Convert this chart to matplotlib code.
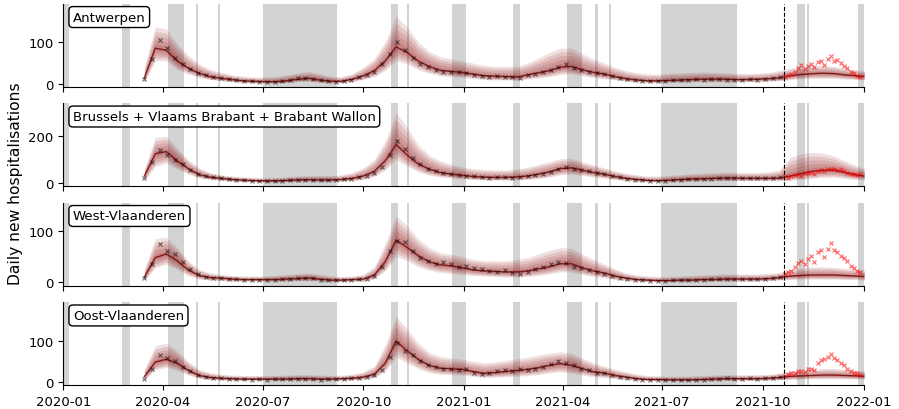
import numpy as np
import pandas as pd
import matplotlib
matplotlib.use('Agg')
import matplotlib.pyplot as plt
import matplotlib.dates as mdates

regions = ['Antwerpen', 'Brussels + Vlaams Brabant + Brabant Wallon',
           'West-Vlaanderen', 'Oost-Vlaanderen']

# model quantiles, every 10 days
model_dates = pd.date_range('2020-03-15', periods=67, freq='10D')
# weekly observed admissions used for calibration
obs_dates = pd.date_range('2020-03-15', '2021-10-17', freq='7D')
# observations after the end of calibration
val_dates = pd.date_range('2021-10-21', '2021-12-31', freq='3D')
calib_end = pd.Timestamp('2021-10-20')

med_ant = [15, 85, 80, 55, 38, 26, 18, 14, 11, 8, 7, 6, 6, 8, 12, 14, 10, 7, 7, 12,
           20, 32, 55, 88, 75, 55, 42, 33, 30, 28, 24, 20, 19, 18, 17, 22, 27, 32, 40, 42,
           34, 28, 24, 18, 13, 10, 8, 8, 9, 10, 11, 12, 12, 12, 11, 11, 12, 13, 15, 20,
           23, 25, 26, 25, 22, 20, 18]
hi_ant = [40, 135, 130, 95, 68, 48, 35, 28, 22, 19, 17, 17, 18, 22, 27, 30, 25, 19, 18, 25,
          40, 60, 100, 160, 135, 100, 78, 65, 60, 55, 50, 45, 42, 42, 42, 50, 62, 75, 85, 85,
          72, 60, 50, 40, 32, 27, 24, 24, 26, 27, 28, 29, 28, 27, 26, 25, 26, 28, 32, 38,
          42, 44, 44, 42, 38, 34, 32]
lo_ant = [5, 55, 55, 35, 24, 16, 11, 8, 6, 4, 3, 3, 3, 4, 6, 7, 5, 3, 3, 6,
          11, 18, 32, 55, 48, 34, 26, 20, 18, 16, 14, 11, 10, 10, 9, 12, 15, 18, 23, 25,
          20, 16, 13, 10, 7, 5, 4, 4, 5, 5, 6, 6, 6, 6, 6, 6, 6, 7, 8, 11,
          13, 14, 14, 14, 12, 11, 10]

med_bru = [30, 125, 135, 95, 62, 36, 25, 20, 15, 12, 10, 9, 9, 11, 13, 14, 13, 13, 15, 20,
           30, 50, 95, 165, 120, 82, 60, 45, 38, 33, 28, 25, 24, 24, 26, 30, 38, 48, 62, 65,
           55, 45, 38, 28, 20, 15, 11, 10, 12, 15, 17, 18, 20, 21, 21, 20, 20, 20, 21, 30,
           40, 50, 55, 55, 45, 35, 28]
hi_bru = [60, 195, 200, 150, 100, 65, 45, 36, 30, 26, 24, 23, 24, 27, 30, 32, 32, 32, 35, 45,
          65, 100, 180, 300, 240, 165, 120, 95, 80, 70, 62, 58, 56, 56, 60, 68, 80, 92, 105, 105,
          92, 78, 65, 52, 42, 35, 30, 30, 33, 36, 40, 42, 44, 46, 46, 45, 45, 48, 55, 110,
          125, 132, 128, 115, 95, 75, 60]
lo_bru = [10, 70, 85, 60, 38, 22, 15, 11, 8, 6, 5, 4, 4, 5, 6, 7, 6, 6, 7, 10,
          15, 28, 55, 100, 72, 48, 34, 26, 22, 18, 15, 13, 12, 12, 13, 15, 19, 25, 35, 38,
          32, 26, 21, 15, 10, 7, 5, 5, 6, 7, 8, 9, 10, 10, 10, 10, 10, 10, 10, 12,
          15, 20, 24, 25, 20, 15, 12]

med_wvl = [10, 48, 55, 42, 24, 13, 9, 8, 6, 5, 5, 5, 5, 6, 7, 8, 6, 4, 4, 5,
           6, 14, 40, 82, 68, 52, 40, 34, 32, 28, 24, 22, 21, 20, 20, 22, 26, 30, 36, 36,
           28, 22, 18, 12, 8, 5, 4, 3, 3, 4, 4, 5, 5, 6, 6, 6, 6, 7, 9, 12,
           13, 14, 14, 14, 13, 12, 11]
hi_wvl = [25, 85, 88, 68, 42, 25, 18, 15, 13, 12, 12, 12, 13, 15, 17, 18, 15, 12, 11, 12,
          15, 30, 75, 130, 110, 85, 68, 58, 55, 50, 45, 42, 42, 42, 44, 48, 55, 62, 68, 66,
          55, 45, 35, 26, 18, 14, 12, 11, 11, 12, 13, 14, 15, 16, 16, 16, 16, 17, 19, 25,
          28, 30, 30, 29, 27, 25, 23]
lo_wvl = [3, 28, 35, 25, 13, 6, 4, 3, 2, 2, 2, 2, 2, 2, 3, 3, 2, 1, 1, 2,
          2, 6, 22, 50, 42, 30, 23, 19, 17, 15, 13, 12, 11, 10, 10, 11, 13, 16, 20, 20,
          15, 11, 9, 5, 3, 2, 1, 1, 1, 1, 1, 2, 2, 2, 2, 2, 2, 3, 4, 5,
          6, 6, 6, 6, 5, 5, 4]

med_ovl = [12, 48, 55, 45, 28, 15, 10, 8, 7, 6, 6, 6, 6, 6, 7, 7, 6, 6, 7, 8,
           11, 18, 45, 100, 76, 55, 40, 33, 31, 30, 25, 20, 22, 25, 27, 30, 34, 40, 44, 40,
           32, 24, 21, 15, 11, 7, 5, 5, 4, 4, 4, 5, 6, 7, 7, 7, 7, 8, 10, 13,
           14, 15, 16, 16, 15, 14, 13]
hi_ovl = [30, 88, 95, 75, 50, 30, 22, 18, 16, 15, 15, 15, 15, 16, 17, 17, 16, 15, 16, 18,
          24, 38, 90, 160, 130, 95, 72, 62, 58, 55, 50, 46, 48, 52, 56, 60, 65, 70, 73, 70,
          58, 46, 38, 30, 24, 18, 15, 14, 13, 13, 14, 15, 16, 17, 17, 17, 17, 18, 21, 26,
          28, 30, 32, 32, 30, 28, 26]
lo_ovl = [4, 28, 35, 28, 16, 8, 5, 4, 3, 3, 3, 3, 3, 3, 3, 3, 3, 3, 3, 4,
          5, 9, 25, 60, 45, 32, 22, 18, 17, 16, 13, 10, 11, 12, 13, 15, 17, 21, 24, 21,
          16, 12, 10, 7, 5, 3, 2, 2, 2, 2, 2, 2, 2, 3, 3, 3, 3, 3, 4, 5,
          6, 7, 7, 7, 7, 6, 6]

obs_ant = [12, 60, 105, 85, 62, 48, 36, 27, 22, 17, 14, 12, 10, 8, 7, 6, 5, 6, 8, 11,
           14, 15, 13, 9, 7, 6, 7, 11, 16, 22, 30, 48, 72, 100, 80, 62, 48, 40, 33, 30,
           28, 30, 26, 22, 20, 18, 19, 17, 16, 15, 22, 25, 28, 33, 40, 48, 38, 33, 30, 27,
           23, 19, 15, 12, 10, 8, 7, 7, 8, 9, 10, 10, 12, 11, 12, 13, 11, 10, 11, 12,
           11, 13, 14, 16]
obs_bru = [20, 90, 140, 120, 100, 80, 55, 38, 30, 24, 20, 17, 14, 12, 10, 9, 8, 9, 10, 12,
           14, 15, 13, 12, 12, 14, 16, 19, 25, 32, 45, 70, 120, 180, 145, 105, 80, 62, 52, 45,
           40, 35, 30, 28, 26, 23, 24, 25, 22, 26, 30, 35, 40, 48, 58, 70, 62, 55, 50, 42,
           38, 30, 24, 18, 14, 12, 10, 9, 10, 12, 14, 16, 17, 18, 19, 20, 21, 20, 22, 21,
           20, 21, 22, 24]
obs_wvl = [8, 35, 75, 60, 55, 40, 25, 15, 10, 9, 8, 7, 6, 5, 5, 4, 5, 5, 6, 7,
           8, 9, 8, 5, 4, 4, 4, 5, 6, 7, 12, 30, 60, 80, 78, 60, 48, 42, 35, 40,
           35, 30, 32, 28, 25, 22, 20, 24, 18, 16, 20, 25, 30, 35, 40, 38, 30, 28, 24, 20,
           16, 12, 9, 6, 5, 4, 3, 3, 3, 4, 4, 5, 5, 5, 6, 6, 7, 6, 6, 7,
           6, 7, 8, 10]
obs_ovl = [7, 30, 65, 58, 50, 35, 25, 15, 10, 9, 8, 7, 6, 6, 5, 6, 5, 6, 6, 6,
           7, 7, 6, 5, 6, 6, 7, 8, 9, 12, 16, 28, 60, 95, 75, 65, 50, 40, 35, 32,
           30, 28, 30, 22, 18, 20, 25, 28, 26, 30, 28, 32, 36, 42, 50, 46, 40, 30, 28, 22,
           20, 15, 12, 9, 7, 5, 5, 4, 4, 4, 4, 5, 5, 5, 6, 7, 8, 7, 7, 8,
           7, 8, 9, 11]

val_ant = [18, 22, 25, 30, 38, 45, 36, 42, 48, 40, 52, 55, 45, 60, 67, 55, 58, 50, 44, 38,
           30, 27, 20, 16]
val_bru = [28, 22, 30, 35, 38, 32, 42, 45, 48, 40, 50, 55, 52, 58, 60, 62, 55, 58, 50, 45,
           40, 38, 35, 40]
val_wvl = [15, 20, 22, 30, 38, 42, 36, 45, 52, 40, 58, 62, 50, 65, 76, 62, 58, 52, 48, 42,
           32, 28, 22, 20]
val_ovl = [14, 18, 20, 22, 25, 27, 24, 30, 32, 28, 45, 52, 55, 60, 69, 58, 52, 45, 40, 32,
           25, 22, 20, 17]

# school holidays / bank holidays
holidays = [('2020-01-01', '2020-01-06'), ('2020-02-24', '2020-03-02'),
            ('2020-04-06', '2020-04-20'), ('2020-05-01', '2020-05-03'),
            ('2020-05-21', '2020-05-23'), ('2020-07-01', '2020-09-07'),
            ('2020-10-26', '2020-11-02'), ('2020-11-10', '2020-11-12'),
            ('2020-12-21', '2021-01-03'), ('2021-02-15', '2021-02-21'),
            ('2021-04-05', '2021-04-19'), ('2021-05-01', '2021-05-03'),
            ('2021-05-13', '2021-05-15'), ('2021-06-30', '2021-09-07'),
            ('2021-11-01', '2021-11-08'), ('2021-11-10', '2021-11-12'),
            ('2021-12-27', '2022-01-01')]

meds = [med_ant, med_bru, med_wvl, med_ovl]
his = [hi_ant, hi_bru, hi_wvl, hi_ovl]
los = [lo_ant, lo_bru, lo_wvl, lo_ovl]
obs = [obs_ant, obs_bru, obs_wvl, obs_ovl]
vals = [val_ant, val_bru, val_wvl, val_ovl]
ylims = [(-6, 189), (-14, 341), (-7, 155), (-9, 195)]
yticks = [[0, 100], [0, 200], [0, 100], [0, 100]]

fig, axes = plt.subplots(4, 1, figsize=(8.99, 4.10), dpi=100, sharex=True)
fig.subplots_adjust(left=0.0704, right=0.9607, bottom=0.058, top=0.988, hspace=0.2)

for i, ax in enumerate(axes):
    for a, b in holidays:
        ax.axvspan(pd.Timestamp(a), pd.Timestamp(b), color='lightgray', lw=0, zorder=0)

    med = np.array(meds[i], dtype=float)
    lo = np.array(los[i], dtype=float)
    hi = np.array(his[i], dtype=float)
    for f in (1.0, 0.8, 0.6, 0.4, 0.2):
        ax.fill_between(model_dates, med - f * (med - lo), med + f * (hi - med),
                        color='#8b0000', alpha=0.12, lw=0, zorder=1)
    ax.plot(model_dates, med, color='#6e0000', lw=1.0, alpha=0.8, zorder=2)

    ax.plot(obs_dates, obs[i], 'x', color='black', ms=3.5, mew=0.8, alpha=0.55, zorder=3)
    ax.plot(val_dates, vals[i], 'x', color='red', ms=3.5, mew=0.8, alpha=0.6, zorder=3)

    ax.axvline(calib_end, color='black', ls='--', lw=0.8, zorder=4)

    ax.set_ylim(*ylims[i])
    ax.set_yticks(yticks[i])
    ax.set_xlim(pd.Timestamp('2020-01-01'), pd.Timestamp('2022-01-01'))
    ax.spines['top'].set_visible(False)
    ax.spines['right'].set_visible(False)
    ax.tick_params(labelsize=9.5)
    ax.text(0.012, 0.92, regions[i], transform=ax.transAxes, fontsize=9.5,
            va='top', ha='left', zorder=5,
            bbox=dict(boxstyle='round,pad=0.3', fc='white', ec='black', lw=1))

axes[-1].xaxis.set_major_locator(mdates.MonthLocator(bymonth=[1, 4, 7, 10]))
axes[-1].xaxis.set_major_formatter(mdates.DateFormatter('%Y-%m'))
fig.text(0.0175, 0.552, 'Daily new hospitalisations', rotation=90, va='center',
         ha='center', fontsize=11.2)

fig.savefig('out.png', dpi=100)
